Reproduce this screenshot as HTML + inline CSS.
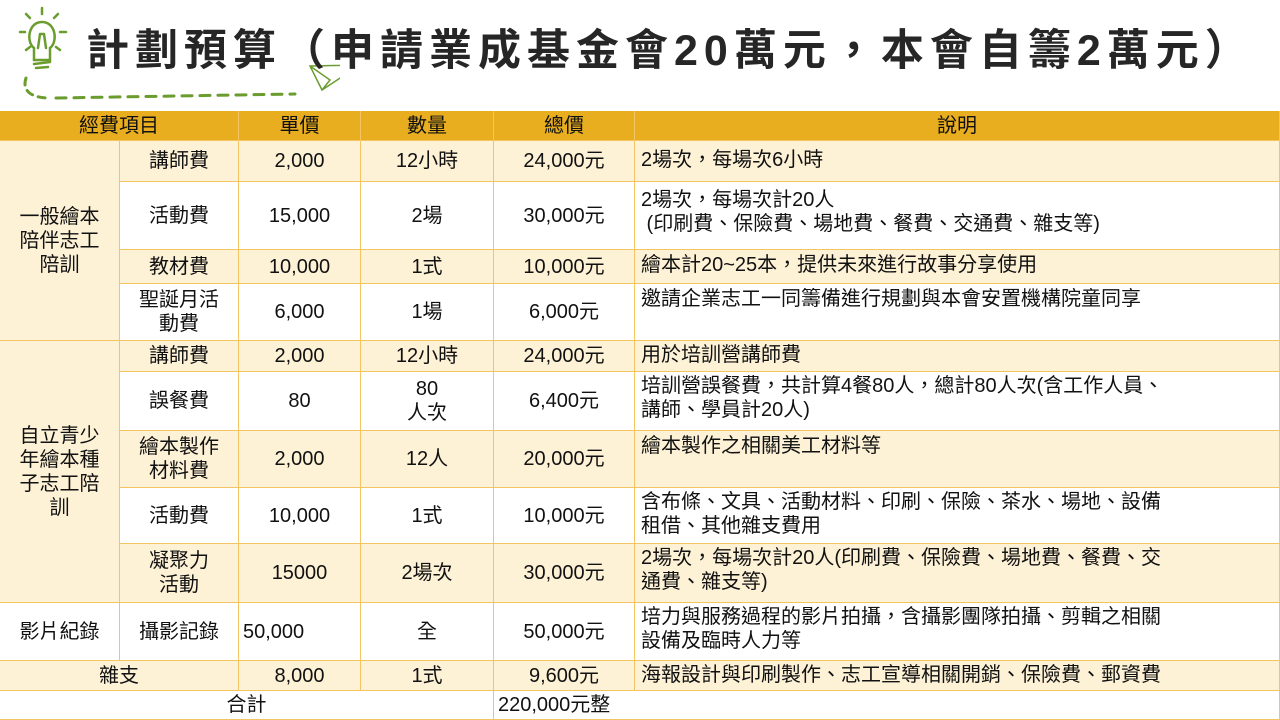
<!DOCTYPE html>
<html><head><meta charset="utf-8">
<style>
body{margin:0;width:1280px;height:720px;background:#fff;overflow:hidden;position:relative;font-family:"Liberation Sans","Noto Sans CJK TC",sans-serif;}
.t{position:absolute;left:86px;top:16px;font-size:43px;font-weight:bold;color:#262626;letter-spacing:6px;white-space:nowrap;font-family:"Liberation Sans","Noto Sans CJK TC",sans-serif;}
.c{position:absolute;box-sizing:border-box;border-right:1.5px solid #F2C462;border-bottom:1.5px solid #F2C462;font-size:20px;color:#111;display:flex;align-items:center;justify-content:center;text-align:center;line-height:24px;}
.h{background:#E9AE20;}
.y{background:#FDF1D6;}
.d{justify-content:flex-start;align-items:flex-start;text-align:left;padding:3px 0 0 6px;}
</style></head><body>
<svg width="340" height="110" style="position:absolute;left:0;top:0">
<g stroke="#6A9C2E" stroke-width="2.5" fill="none" stroke-linecap="round">
<line x1="42" y1="8" x2="42" y2="14"/><line x1="26" y1="14" x2="30" y2="18"/><line x1="58" y1="14" x2="54" y2="18"/>
<line x1="20" y1="32" x2="25" y2="32"/><line x1="60" y1="32" x2="66" y2="32"/><line x1="26" y1="50" x2="30" y2="47"/><line x1="56" y1="47" x2="60" y2="50"/>
<path d="M34 48 C26 42 28 22 42 22 C56 22 58 42 50 48 L50 60 L34 60 Z"/>
<line x1="34" y1="64" x2="50" y2="62"/><line x1="36" y1="68" x2="48" y2="67"/>
<path d="M38 48 L40 34 M46 48 L44 34 M40 34 L44 34"/>
<path d="M26 78 C22 90 30 98 50 98" stroke-dasharray="7 6" stroke-width="3"/>
<path d="M56 98 L295 94" stroke-dasharray="10 8" stroke-width="3"/>
<path d="M310 66 L360 65 L322 90 Z M310 66 L330 80 L322 90" stroke-width="1.5"/>
</g></svg>
<div class="t">計劃預算（申請業成基金會20萬元，本會自籌2萬元）</div>

<div class="c h" style="left:0;top:111px;width:239px;height:30px">經費項目</div>
<div class="c h" style="left:239px;top:111px;width:122px;height:30px">單價</div>
<div class="c h" style="left:361px;top:111px;width:133px;height:30px">數量</div>
<div class="c h" style="left:494px;top:111px;width:141px;height:30px">總價</div>
<div class="c h" style="left:635px;top:111px;width:645px;height:30px">說明</div>

<div class="c y" style="left:0;top:141px;width:120px;height:200px">一般繪本<br>陪伴志工<br>陪訓</div>
<div class="c y" style="left:0;top:341px;width:120px;height:262px">自立青少<br>年繪本種<br>子志工陪<br>訓</div>

<div class="c y" style="left:120px;top:141px;width:119px;height:41px">講師費</div>
<div class="c y" style="left:239px;top:141px;width:122px;height:41px">2,000</div>
<div class="c y" style="left:361px;top:141px;width:133px;height:41px">12小時</div>
<div class="c y" style="left:494px;top:141px;width:141px;height:41px">24,000元</div>
<div class="c y d" style="left:635px;top:141px;width:645px;height:41px;padding-top:7px">2場次，每場次6小時</div>

<div class="c" style="left:120px;top:182px;width:119px;height:68px">活動費</div>
<div class="c" style="left:239px;top:182px;width:122px;height:68px">15,000</div>
<div class="c" style="left:361px;top:182px;width:133px;height:68px">2場</div>
<div class="c" style="left:494px;top:182px;width:141px;height:68px">30,000元</div>
<div class="c d" style="left:635px;top:182px;width:645px;height:68px;padding-top:6px">2場次，每場次計20人<br>&nbsp;(印刷費、保險費、場地費、餐費、交通費、雜支等)</div>

<div class="c y" style="left:120px;top:250px;width:119px;height:34px">教材費</div>
<div class="c y" style="left:239px;top:250px;width:122px;height:34px">10,000</div>
<div class="c y" style="left:361px;top:250px;width:133px;height:34px">1式</div>
<div class="c y" style="left:494px;top:250px;width:141px;height:34px">10,000元</div>
<div class="c y d" style="left:635px;top:250px;width:645px;height:34px">繪本計20~25本，提供未來進行故事分享使用</div>

<div class="c" style="left:120px;top:284px;width:119px;height:57px">聖誕月活<br>動費</div>
<div class="c" style="left:239px;top:284px;width:122px;height:57px">6,000</div>
<div class="c" style="left:361px;top:284px;width:133px;height:57px">1場</div>
<div class="c" style="left:494px;top:284px;width:141px;height:57px">6,000元</div>
<div class="c d" style="left:635px;top:284px;width:645px;height:57px">邀請企業志工一同籌備進行規劃與本會安置機構院童同享</div>

<div class="c y" style="left:120px;top:341px;width:119px;height:31px">講師費</div>
<div class="c y" style="left:239px;top:341px;width:122px;height:31px">2,000</div>
<div class="c y" style="left:361px;top:341px;width:133px;height:31px">12小時</div>
<div class="c y" style="left:494px;top:341px;width:141px;height:31px">24,000元</div>
<div class="c y d" style="left:635px;top:341px;width:645px;height:31px;padding-top:2px">用於培訓營講師費</div>

<div class="c" style="left:120px;top:372px;width:119px;height:59px">誤餐費</div>
<div class="c" style="left:239px;top:372px;width:122px;height:59px">80</div>
<div class="c" style="left:361px;top:372px;width:133px;height:59px">80<br>人次</div>
<div class="c" style="left:494px;top:372px;width:141px;height:59px">6,400元</div>
<div class="c d" style="left:635px;top:372px;width:645px;height:59px;padding-top:2px">培訓營誤餐費，共計算4餐80人，總計80人次(含工作人員、<br>講師、學員計20人)</div>

<div class="c y" style="left:120px;top:431px;width:119px;height:57px">繪本製作<br>材料費</div>
<div class="c y" style="left:239px;top:431px;width:122px;height:57px">2,000</div>
<div class="c y" style="left:361px;top:431px;width:133px;height:57px">12人</div>
<div class="c y" style="left:494px;top:431px;width:141px;height:57px">20,000元</div>
<div class="c y d" style="left:635px;top:431px;width:645px;height:57px">繪本製作之相關美工材料等</div>

<div class="c" style="left:120px;top:488px;width:119px;height:56px">活動費</div>
<div class="c" style="left:239px;top:488px;width:122px;height:56px">10,000</div>
<div class="c" style="left:361px;top:488px;width:133px;height:56px">1式</div>
<div class="c" style="left:494px;top:488px;width:141px;height:56px">10,000元</div>
<div class="c d" style="left:635px;top:488px;width:645px;height:56px;padding-top:2px">含布條、文具、活動材料、印刷、保險、茶水、場地、設備<br>租借、其他雜支費用</div>

<div class="c y" style="left:120px;top:544px;width:119px;height:59px">凝聚力<br>活動</div>
<div class="c y" style="left:239px;top:544px;width:122px;height:59px">15000</div>
<div class="c y" style="left:361px;top:544px;width:133px;height:59px">2場次</div>
<div class="c y" style="left:494px;top:544px;width:141px;height:59px">30,000元</div>
<div class="c y d" style="left:635px;top:544px;width:645px;height:59px;padding-top:2px">2場次，每場次計20人(印刷費、保險費、場地費、餐費、交<br>通費、雜支等)</div>

<div class="c" style="left:0;top:603px;width:120px;height:58px">影片紀錄</div>
<div class="c" style="left:120px;top:603px;width:119px;height:58px">攝影記錄</div>
<div class="c" style="left:239px;top:603px;width:122px;height:58px;justify-content:flex-start;padding-left:4px">50,000</div>
<div class="c" style="left:361px;top:603px;width:133px;height:58px">全</div>
<div class="c" style="left:494px;top:603px;width:141px;height:58px">50,000元</div>
<div class="c d" style="left:635px;top:603px;width:645px;height:58px;padding-top:2px">培力與服務過程的影片拍攝，含攝影團隊拍攝、剪輯之相關<br>設備及臨時人力等</div>

<div class="c y" style="left:0;top:661px;width:239px;height:30px">雜支</div>
<div class="c y" style="left:239px;top:661px;width:122px;height:30px">8,000</div>
<div class="c y" style="left:361px;top:661px;width:133px;height:30px">1式</div>
<div class="c y" style="left:494px;top:661px;width:141px;height:30px">9,600元</div>
<div class="c y d" style="left:635px;top:661px;width:645px;height:30px;padding-top:2px">海報設計與印刷製作、志工宣導相關開銷、保險費、郵資費</div>

<div class="c" style="left:0;top:691px;width:494px;height:29px">合計</div>
<div class="c" style="left:494px;top:691px;width:786px;height:29px;justify-content:flex-start;padding-left:4px">220,000元整</div>
</body></html>
